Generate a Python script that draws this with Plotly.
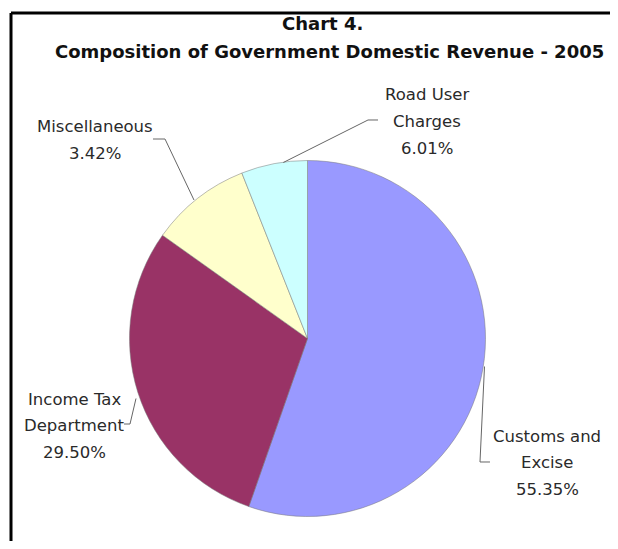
import plotly.graph_objects as go

# ---- data ----
categories = ["Customs and Excise", "Income Tax Department", "Miscellaneous", "Road User Charges"]
slice_values = [55.35, 29.50, 9.14, 6.01]          # slice sizes as drawn
label_lines = [["Customs and", "Excise"], ["Income Tax", "Department"], ["Miscellaneous"], ["Road User", "Charges"]]
label_percent = ["55.35%", "29.50%", "3.42%", "6.01%"]  # percentages as printed
colors = ["#9999FF", "#993366", "#FFFFCC", "#CCFFFF"]

# page body has an 8px margin; figure sized so it fits the window exactly
OFF = 8
W, H = 602, 533

def px(x):
    return (x - OFF) / W

def py(y):
    return 1 - (y - OFF) / H

fig = go.Figure()
fig.add_trace(go.Pie(
    labels=categories, values=slice_values, sort=False, direction="clockwise", rotation=0,
    marker=dict(colors=colors, line=dict(color="#777777", width=0.5)),
    textinfo="none", hoverinfo="label+percent", showlegend=False,
    domain=dict(x=[px(129.5), px(485.5)], y=[py(516.5), py(160.5)]),
))

# label placement (centre x, first-line y) in page pixels
label_pos = [(547, 436), (74, 399), (95, 127), (427, 95)]
LINE_GAP = 26.5
annotations = []
for lines, pct, (cx, y0) in zip(label_lines, label_percent, label_pos):
    for i, t in enumerate(lines + [pct]):
        annotations.append(dict(x=px(cx), y=py(y0 + i * LINE_GAP), xref="paper", yref="paper",
                                text=t, showarrow=False, xanchor="center", yanchor="middle",
                                font=dict(family="DejaVu Sans", size=16.5, color="#2a2a2a")))

annotations.append(dict(x=px(322), y=py(24), xref="paper", yref="paper", text="<b>Chart 4.</b>",
                        showarrow=False, xanchor="center", yanchor="middle",
                        font=dict(family="DejaVu Sans", size=18, color="#111111")))
annotations.append(dict(x=px(329), y=py(51), xref="paper", yref="paper",
                        text="<b>Composition of Government Domestic Revenue - 2005</b>",
                        showarrow=False, xanchor="center", yanchor="middle",
                        font=dict(family="DejaVu Sans", size=18, color="#111111")))

# leader lines (page pixel paths)
leaders = [
    [(490, 462), (480, 462), (484.5, 366.5)],
    [(124, 424), (130, 424), (136, 398.5)],
    [(153, 139), (165, 139), (194, 200)],
    [(378, 120), (368, 120), (283.3, 162.5)],
]
shapes = []
for pts in leaders:
    path = "M " + " L ".join(f"{px(x):.5f},{py(y):.5f}" for x, y in pts)
    shapes.append(dict(type="path", path=path, xref="paper", yref="paper",
                       line=dict(color="#666666", width=1)))

# chart frame (left and top edges visible)
shapes.append(dict(type="line", xref="paper", yref="paper", x0=px(11), x1=px(11), y0=py(13), y1=py(545),
                   line=dict(color="black", width=3)))
shapes.append(dict(type="line", xref="paper", yref="paper", x0=px(11), x1=px(612), y0=py(13), y1=py(13),
                   line=dict(color="black", width=3)))

fig.update_layout(width=W, height=H, margin=dict(l=0, r=0, t=0, b=0),
                  paper_bgcolor="white", plot_bgcolor="white",
                  annotations=annotations, shapes=shapes)

fig.write_html("out.html")
